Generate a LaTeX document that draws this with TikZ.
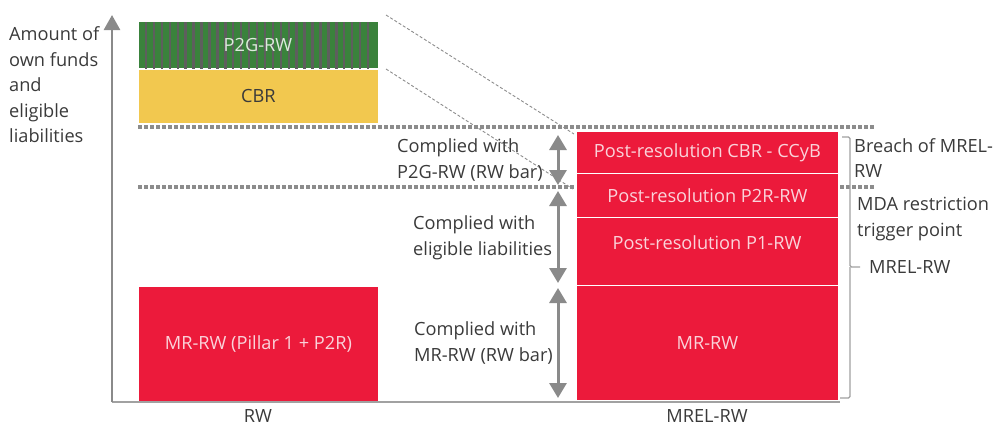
\documentclass[tikz,border=0pt]{standalone}
\usepackage{fontspec}
\setmainfont{Open Sans}
\usetikzlibrary{arrows.meta}
\definecolor{txt}{HTML}{3A3A3A}
\definecolor{axisgray}{HTML}{8A8A8A}
\definecolor{barred}{HTML}{EC1A3B}
\definecolor{bargreen}{HTML}{3A823C}
\definecolor{baryellow}{HTML}{F2C84F}
\definecolor{stripegray}{HTML}{5E5E5E}
\definecolor{dotgray}{HTML}{8C8C8C}
\definecolor{redtext}{HTML}{FAD3DA}
\definecolor{greentext}{HTML}{DCEBDC}
\tikzset{
  barbox/.style={draw=white, line width=0.8pt, inner sep=0pt, anchor=north west},
  redbar/.style={barbox, fill=barred, text=redtext},
  lbl/.style={text=txt, align=left, anchor=west, inner sep=0pt},
  dotline/.style={dotgray, line width=3.5pt, dash pattern=on 3.5pt off 2.5pt},
  thindash/.style={dotgray, line width=0.9pt, dash pattern=on 3pt off 2pt},
  dblarrow/.style={axisgray, line width=3pt, {Triangle[width=17pt,length=15pt]}-{Triangle[width=17pt,length=15pt]}},
  bracketline/.style={draw=gray!75, line width=1.1pt, rounded corners=1.5pt},
}
\begin{document}
\begin{tikzpicture}[x=1pt,y=-1pt, font=\fontsize{18.2}{25.5}\selectfont]
\useasboundingbox (0,0) rectangle (993,426);

% dotted threshold lines
\coordinate (d1a) at (138,127);
\coordinate (d1b) at (874,127);
\coordinate (d2a) at (138,187);
\coordinate (d2b) at (874,187);
\draw[dotline] (d1a) -- (d1b);
\draw[dotline] (d2a) -- (d2b);

% left column (RW)
\node[barbox, fill=bargreen, minimum width=240pt, minimum height=47pt] (p2g) at (138,21) {};
\foreach \i in {0,...,28}{
  \fill[stripegray] ({146+\i*7.93-1.2},21.5) rectangle ({146+\i*7.93+1.2},68.5);
}
\node[text=greentext] (p2gt) at (258,45) {P2G-RW};
\node[barbox, fill=baryellow, text=txt, minimum width=240pt, minimum height=54pt] (cbr) at (138,68.5) {CBR};
\node[redbar, minimum width=240pt, minimum height=116pt] (mrl) at (138,286) {MR-RW (Pillar 1 + P2R)};

% right column (MREL-RW)
\node[redbar, minimum width=262pt, minimum height=42pt] (pcbr) at (576,131) {Post-resolution CBR - CCyB};
\node[redbar, minimum width=262pt, minimum height=44pt] (pp2r) at (576,173) {Post-resolution P2R-RW};
\node[redbar, minimum width=262pt, minimum height=68pt] (pp1) at (576,217) {};
\node[text=redtext] (pp1t) at (707,243) {Post-resolution P1-RW};
\node[redbar, minimum width=262pt, minimum height=115pt] (mrr) at (576,285) {MR-RW};

% axes
\coordinate (origin) at (112,402);
\coordinate (ytop) at (112,15);
\coordinate (xend) at (840,402);
\draw[axisgray!80, line width=1.5pt] (origin) -- (xend);
\draw[axisgray, line width=2.6pt, -{Triangle[width=16pt,length=15pt]}] (origin) -- (ytop);

% thin dashed guide lines
\coordinate (g1a) at (386,15);
\coordinate (g1b) at (574,134);
\coordinate (g2a) at (386,69);
\coordinate (g2b) at (573,189);
\draw[thindash] (g1a) -- (g1b);
\draw[thindash] (g2a) -- (g2b);

% double arrows
\coordinate (a1t) at (558,135);
\coordinate (a1b) at (558,185);
\coordinate (a2t) at (558,191);
\coordinate (a2b) at (558,283);
\coordinate (a3t) at (558,288);
\coordinate (a3b) at (558,398);
\draw[dblarrow] (a1t) -- (a1b);
\draw[dblarrow] (a2t) -- (a2b);
\draw[dblarrow] (a3t) -- (a3b);

% brace on the right
\coordinate (bt) at (842,137);
\coordinate (bm) at (860,267);
\coordinate (bb) at (840,398);
\draw[bracketline] (bt) -- (850,137) -- (850,267) -- (bm);
\draw[bracketline] (850,267) -- (850,398) -- (bb);

% labels
\node[lbl] (ylab) at (9,85) {Amount of\\own funds\\and\\eligible\\liabilities};
\node[lbl] (c1) at (397,160) {Complied with\\P2G-RW (RW bar)};
\node[lbl] (c2) at (413,238) {Complied with\\eligible liabilities};
\node[lbl] (c3) at (414,343) {Complied with\\MR-RW (RW bar)};
\node[lbl] (breach) at (854,158) {Breach of MREL-\\RW};
\node[lbl] (mda) at (857,219) {MDA restriction\\trigger point};
\node[lbl] (mrel) at (869,267) {MREL-RW};
\node[text=txt] (xrw) at (258,416) {RW};
\node[text=txt] (xmrel) at (707,416) {MREL-RW};
\end{tikzpicture}
\end{document}
